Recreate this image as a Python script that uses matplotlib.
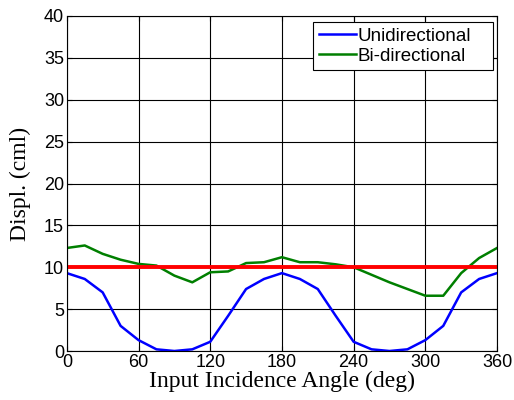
import matplotlib.pyplot as plt

angles = list(range(0, 361, 15))
uni = [9.3, 8.6, 7.0, 3.0, 1.3, 0.2, 0.0, 0.2, 1.1, 4.2, 7.4, 8.6, 9.3,
       8.6, 7.4, 4.2, 1.1, 0.2, 0.0, 0.2, 1.3, 3.0, 7.0, 8.6, 9.3]
bi = [12.3, 12.6, 11.6, 10.9, 10.4, 10.2, 9.0, 8.2, 9.4, 9.5, 10.5, 10.6, 11.2,
      10.6, 10.6, 10.35, 10.0, 9.1, 8.2, 7.4, 6.6, 6.6, 9.3, 11.1, 12.3]
ref_level = 10

fig = plt.figure(figsize=(5.14, 4.0), dpi=100)
ax = fig.add_axes([0.130, 0.1225, 0.837, 0.8375])

ax.grid(True, color="black", linewidth=0.8)
ax.set_axisbelow(True)
ax.plot(angles, uni, color="#0000ff", linewidth=1.8, label="Unidirectional")
ax.plot(angles, bi, color="#007f00", linewidth=1.8, label="Bi-directional")
ax.axhline(ref_level, color="red", linewidth=2.8)

ax.set_xlim(0, 360)
ax.set_ylim(0, 40)
ax.set_xticks(range(0, 361, 60))
ax.set_yticks(range(0, 41, 5))
ax.tick_params(direction="in", top=True, right=True, labelsize=13, pad=2)
for lbl in ax.get_xticklabels() + ax.get_yticklabels():
    lbl.set_fontfamily("Liberation Sans")

ax.set_xlabel("Input Incidence Angle (deg)", fontfamily="Liberation Serif",
              fontsize=17, labelpad=0)
ax.set_ylabel("Displ. (cml)", fontfamily="Liberation Serif", fontsize=17,
              labelpad=9)

# legend box stretched to the width seen in the original
leg = ax.legend(loc="upper left", bbox_to_anchor=(0.572, 0.0, 0.419, 0.982),
                mode="expand", prop={"family": "Liberation Sans", "size": 13.5},
                fancybox=False, edgecolor="black", framealpha=1,
                handlelength=2.0, handletextpad=0.1, borderpad=0.3,
                labelspacing=0.15, borderaxespad=0)
leg.get_frame().set_linewidth(0.8)

fig.savefig("out.png", dpi=100)
